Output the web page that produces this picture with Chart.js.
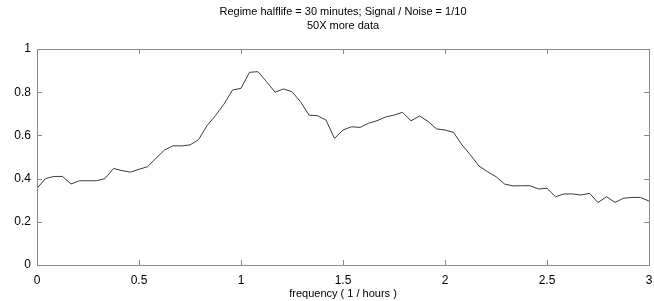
<!DOCTYPE html>
<html>
<head>
<meta charset="utf-8">
<script src="https://cdn.jsdelivr.net/npm/chart.js@4/dist/chart.umd.min.js"></script>
<style>
  html, body { margin: 0; padding: 0; background: #fff; }
  #wrap { width: 654px; height: 301px; }
</style>
</head>
<body>
<div id="wrap"><canvas id="spectrum" width="654" height="301"></canvas></div>
<script>
// values
var freqs = [
  0, 0.0417, 0.0833, 0.125, 0.1667, 0.2083, 0.25, 0.2917, 0.3333, 0.375,
  0.4167, 0.4583, 0.5, 0.5417, 0.5833, 0.625, 0.6667, 0.7083, 0.75, 0.7917,
  0.8333, 0.875, 0.9167, 0.9583, 1, 1.0417, 1.0833, 1.125, 1.1667, 1.2083,
  1.25, 1.2917, 1.3333, 1.375, 1.4167, 1.4583, 1.5, 1.5417, 1.5833, 1.625,
  1.6667, 1.7083, 1.75, 1.7917, 1.8333, 1.875, 1.9167, 1.9583, 2, 2.0417,
  2.0833, 2.125, 2.1667, 2.2083, 2.25, 2.2917, 2.3333, 2.375, 2.4167, 2.4583,
  2.5, 2.5417, 2.5833, 2.625, 2.6667, 2.7083, 2.75, 2.7917, 2.8333, 2.875,
  2.9167, 2.9583, 3
];
var power = [
  0.355, 0.40, 0.41, 0.41, 0.375, 0.39, 0.39, 0.39, 0.40, 0.447,
  0.437, 0.43, 0.443, 0.455, 0.494, 0.532, 0.552, 0.551, 0.556, 0.58,
  0.645, 0.692, 0.745, 0.81, 0.818, 0.892, 0.895, 0.849, 0.80, 0.815,
  0.802, 0.756, 0.694, 0.691, 0.671, 0.586, 0.625, 0.64, 0.637, 0.656,
  0.668, 0.685, 0.694, 0.707, 0.667, 0.69, 0.665, 0.63, 0.625, 0.614,
  0.556, 0.509, 0.458, 0.432, 0.409, 0.375, 0.366, 0.367, 0.367, 0.352,
  0.355, 0.316, 0.329, 0.329, 0.324, 0.332, 0.289, 0.316, 0.29, 0.309,
  0.313, 0.313, 0.296
];
var xTicks = [0, 0.5, 1, 1.5, 2, 2.5, 3];
var yTicks = [0, 0.2, 0.4, 0.6, 0.8, 1];
var titleLines = ['Regime halflife = 30 minutes; Signal / Noise = 1/10', '50X more data'];

var points = freqs.map(function (f, i) { return { x: f, y: power[i] }; });

// matlab style box with inward ticks and the two line title
var boxPlugin = {
  id: 'box',
  afterDraw: function (chart) {
    var ctx = chart.ctx;
    var a = chart.chartArea;
    var xs = chart.scales.x, ys = chart.scales.y;
    ctx.save();
    ctx.strokeStyle = '#8a8a8a';
    ctx.lineWidth = 1;
    ctx.strokeRect(Math.round(a.left) + 0.5, Math.round(a.top) + 0.5,
      Math.round(a.right - a.left), Math.round(a.bottom - a.top));
    ctx.beginPath();
    xTicks.forEach(function (v) {
      var px = Math.round(xs.getPixelForValue(v)) + 0.5;
      ctx.moveTo(px, a.bottom); ctx.lineTo(px, a.bottom - 5);
      ctx.moveTo(px, a.top); ctx.lineTo(px, a.top + 5);
    });
    yTicks.forEach(function (v) {
      var py = Math.round(ys.getPixelForValue(v)) + 0.5;
      ctx.moveTo(a.left, py); ctx.lineTo(a.left + 5, py);
      ctx.moveTo(a.right, py); ctx.lineTo(a.right - 5, py);
    });
    ctx.stroke();

    ctx.fillStyle = '#000';
    ctx.font = '11px "Liberation Sans", Arial, sans-serif';
    ctx.textAlign = 'center';
    ctx.textBaseline = 'middle';
    var cx = (a.left + a.right) / 2;
    ctx.fillText(titleLines[0], cx, 12);
    ctx.fillText(titleLines[1], cx, 26);
    ctx.restore();
  }
};

var tickFont = { family: '"Liberation Sans", Arial, sans-serif', size: 12 };

new Chart(document.getElementById('spectrum'), {
  type: 'line',
  data: {
    datasets: [{
      data: points,
      borderColor: '#3a3a3a',
      borderWidth: 1,
      pointRadius: 0,
      tension: 0,
      fill: false
    }]
  },
  options: {
    responsive: false,
    animation: false,
    layout: { padding: { top: 49, right: 5, left: 0, bottom: 0 } },
    plugins: { legend: { display: false }, tooltip: { enabled: false } },
    scales: {
      x: {
        type: 'linear',
        min: 0,
        max: 3,
        afterBuildTicks: function (s) { s.ticks = xTicks.map(function (v) { return { value: v }; }); },
        afterFit: function (s) { s.height = 36; s.paddingLeft = 0; s.paddingRight = 0; },
        grid: { display: false, drawTicks: false },
        border: { display: false },
        ticks: {
          color: '#000',
          padding: 8,
          maxRotation: 0,
          font: tickFont,
          callback: function (v) { return String(v); }
        },
        title: {
          display: true,
          text: 'frequency ( 1 / hours )',
          color: '#000',
          padding: 0,
          font: { family: '"Liberation Sans", Arial, sans-serif', size: 11 }
        }
      },
      y: {
        min: 0,
        max: 1,
        afterBuildTicks: function (s) { s.ticks = yTicks.map(function (v) { return { value: v }; }); },
        afterFit: function (s) { s.width = 37; s.paddingTop = 0; s.paddingBottom = 0; },
        grid: { display: false, drawTicks: false },
        border: { display: false },
        ticks: {
          color: '#000',
          padding: 6,
          font: tickFont,
          callback: function (v) { return String(v); }
        }
      }
    }
  },
  plugins: [boxPlugin]
});
</script>
</body>
</html>
